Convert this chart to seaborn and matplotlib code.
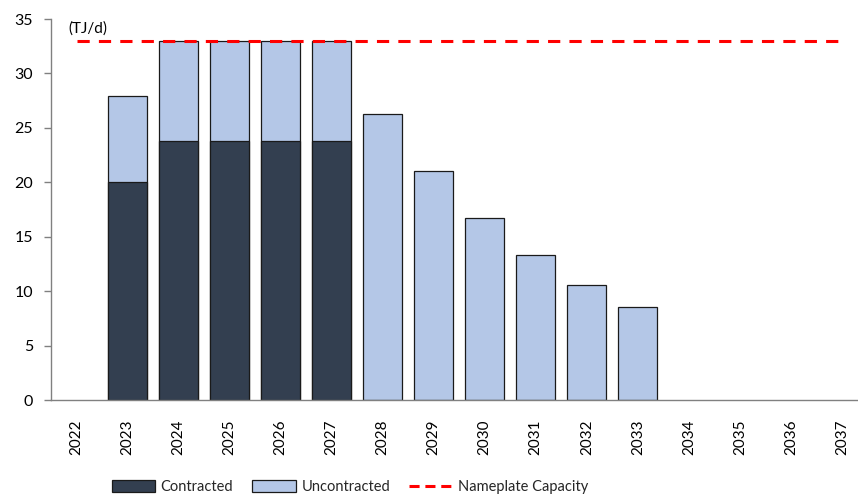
import matplotlib
matplotlib.use("Agg")
import matplotlib.pyplot as plt
import matplotlib.transforms as mtransforms
from matplotlib.patches import Patch
from matplotlib.lines import Line2D
import seaborn as sns
import pandas as pd
import numpy as np

# Supply profile by year (TJ/d)
years = [str(y) for y in range(2022, 2038)]
contracted = [0, 20.0, 23.8, 23.8, 23.8, 23.8, 0, 0, 0, 0, 0, 0, 0, 0, 0, 0]
uncontracted = [0, 7.9, 9.2, 9.2, 9.2, 9.2, 26.3, 21.0, 16.75, 13.35, 10.6, 8.5, 0, 0, 0, 0]
nameplate = [33] * len(years)

contracted_color = "#333F50"
uncontracted_color = "#B4C7E7"
edge_color = "#1a1a1a"

df = pd.DataFrame({
    "year": years,
    "contracted": contracted,
    "uncontracted": uncontracted,
    "nameplate": nameplate,
})
df["total"] = df["contracted"] + df["uncontracted"]
# empty years get no bar outline
df[["contracted", "total"]] = df[["contracted", "total"]].replace(0, np.nan)

sns.set_theme(style="white")
plt.rcParams["font.family"] = ["Lato", "DejaVu Sans"]

fig = plt.figure(figsize=(8.58, 4.98), dpi=100)
ax = fig.add_axes([51 / 858, 98 / 498, 816.5 / 858, 381 / 498])

# Stacked bars: total (uncontracted on top) first, contracted drawn over it
sns.barplot(data=df, x="year", y="total", order=years, color=uncontracted_color,
            width=0.76, edgecolor=edge_color, linewidth=0.9, saturation=1, ax=ax)
sns.barplot(data=df, x="year", y="contracted", order=years, color=contracted_color,
            width=0.76, edgecolor=edge_color, linewidth=0.9, saturation=1, ax=ax)

# Nameplate capacity reference
sns.lineplot(data=df, x="year", y="nameplate", color="#FF0000", linewidth=2.2,
             dashes=False, ax=ax, zorder=5)
ax.lines[-1].set_dashes((4, 3))
ax.lines[-1].set_dash_capstyle("butt")

ax.set_xlim(-0.5, len(years) - 0.5)
ax.set_ylim(0, 35)
ax.set_yticks(range(0, 36, 5))
ax.set_xlabel("")
ax.set_ylabel("")

for side in ("top", "right"):
    ax.spines[side].set_visible(False)
for side in ("left", "bottom"):
    ax.spines[side].set_color("#808080")
    ax.spines[side].set_linewidth(1.0)

ax.tick_params(axis="y", which="both", left=True, length=5, width=1.0,
               color="#808080", labelsize=11.5, labelcolor="#000000", pad=8)
ax.tick_params(axis="x", bottom=False, labelsize=11, labelcolor="#000000",
               rotation=90, pad=8)

trans = mtransforms.blended_transform_factory(ax.transAxes, ax.transData)
ax.text(0.021, 34.1, "(TJ/d)", transform=trans, fontsize=11, va="center",
        ha="left", color="#000000")

handles = [
    Patch(facecolor=contracted_color, edgecolor=edge_color, linewidth=0.9),
    Patch(facecolor=uncontracted_color, edgecolor=edge_color, linewidth=0.9),
    Line2D([0], [0], color="#FF0000", linewidth=2.2, dashes=(3.3, 1.9),
           dash_capstyle="butt"),
]
labels = ["Contracted", "Uncontracted", "Nameplate Capacity"]
fig.legend(handles, labels, loc="center", bbox_to_anchor=(350 / 858, 1 - 487 / 498),
           ncol=3, frameon=False, fontsize=10.5, handlelength=3.0,
           handleheight=0.8, handletextpad=0.36, columnspacing=1.3)

fig.savefig("out.png", dpi=100)
